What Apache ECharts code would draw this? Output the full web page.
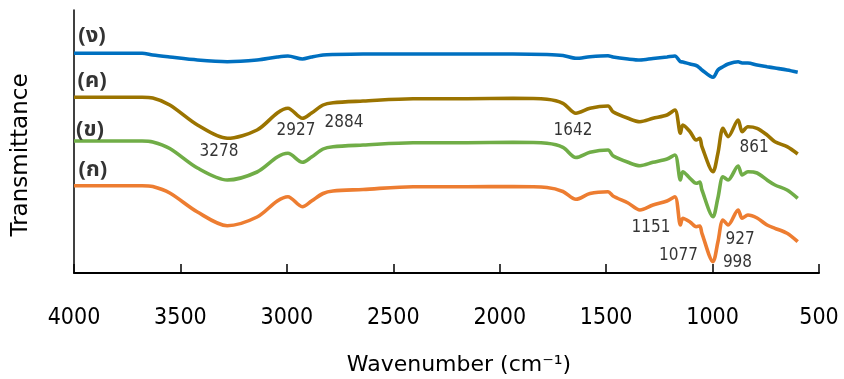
<!DOCTYPE html>
<html>
<head>
<meta charset="utf-8">
<script src="https://cdn.jsdelivr.net/npm/echarts@6/dist/echarts.min.js"></script>
<style>
html,body{margin:0;padding:0;background:#fff;}
#chart{width:844px;height:379px;}
</style>
</head>
<body>
<div id="chart"></div>
<script>
// Wavenumbers (cm-1)
const wavenumbers = [4000,3680,3630,3550,3420,3280,3140,3045,2995,2927,2884,2830,2783,2642,2407,2154,1938,1778,1703,1642,1576,1491,1468,1397,1341,1280,1214,1177,1151,1140,1106,1077,1060,1050,998,975,951,927,880,861,834,791,744,707,650,600];
// Offset transmittance traces (arbitrary units)
const seriesNgo = [219.7,219.7,218,216,213,211.3,213,216,217,214,216,218,218.5,219,219,219,219,218.5,217.5,214.7,216.3,217.3,216,214,213,214.5,216,217,211.3,211,209,207.5,205,203,195.7,203,206.3,209,211.3,210,210,208,206.3,205,203,200.7];
const seriesKho2 = [175.7,175.7,175,168,148,134.7,143,160,164.7,154.7,160,168,170.3,172,174.3,174.3,174.7,173.7,169.7,159.7,164.7,167,161.3,154.7,151.3,154.7,158,163,139.7,148,141.3,133,134.7,126.3,101.3,119.7,144.7,136.3,153,141.3,146.3,144.7,138,131.3,126.3,119];
const seriesKho = [132,132,131,124.5,105,93,101,116,119.7,110.7,116,124,126.3,128,130.3,130.3,130.7,129.7,125.7,115.5,120.7,123,117.3,110.7,107.3,110.7,114,118,93,101.3,94.7,89.7,91,83,56.3,75,96.3,93,107,98,101.3,100,93,88,83,74.7];
const seriesKo = [87.3,87.3,86.5,80,61,47.3,56,72,76.3,66.3,72,79.5,82,83.5,86.3,86.3,86.5,85.5,81.5,73.7,79.5,81.3,77,70,63,68,72,76.3,48,54.7,51,46.3,47,39.7,11.3,31,53,48,63,54.7,58,55,48,44.7,39.7,31.3];
const seriesNames = ['(ง)','(ค)','(ข)','(ก)'];
const seriesColors = ['#0070C0','#9B7400','#70AD47','#ED7D31'];
// Peak annotations: [text, wavenumber, y]
const peakLabels = [['3278',3319,121],['2927',2957,142],['2884',2732,150.5],['1642',1656,142.5],['861',805,125],['1151',1289,45],['1077',1160,17],['927',871,33],['998',883,10.5]];
// Trace labels positions: [text, wavenumber, y]
const traceLabels = [['(ง)',3915,235],['(ค)',3915,190],['(ข)',3925,141],['(ก)',3911,101]];
const xTicks = {min:500,max:4000,interval:500};

const allSeries = [seriesNgo, seriesKho2, seriesKho, seriesKo];
const chart = echarts.init(document.getElementById('chart'), null, {renderer:'canvas'});
const series = allSeries.map((vals,i)=>({
  name: seriesNames[i],
  type:'line',
  data: wavenumbers.map((w,j)=>[w,vals[j]]),
  showSymbol:false,
  smooth:0.3,
  lineStyle:{color:seriesColors[i],width:3.6},
  itemStyle:{color:seriesColors[i]},
  z:2
}));
series.push({
  type:'scatter',
  data: peakLabels.map(p=>({value:[p[1],p[2]],name:p[0]})),
  symbolSize:1,
  itemStyle:{color:'rgba(0,0,0,0)'},
  label:{show:true,position:'inside',formatter:p=>p.name,color:'#000',textBorderWidth:0,fontSize:17,fontFamily:'DejaVu Sans Condensed, DejaVu Sans, sans-serif'},
  z:5
});
series.push({
  type:'scatter',
  data: traceLabels.map(p=>({value:[p[1],p[2]],name:p[0]})),
  symbolSize:1,
  itemStyle:{color:'rgba(0,0,0,0)'},
  label:{show:true,position:'inside',formatter:p=>p.name,color:'#000',textBorderWidth:0,fontSize:22,fontWeight:'bold',fontFamily:'Tahoma, "Noto Sans Thai", Loma, Garuda, "DejaVu Sans", sans-serif'},
  z:5
});
chart.setOption({
  animation:false,
  backgroundColor:'#fff',
  grid:{left:74,right:25,top:10,bottom:106,containLabel:false},
  xAxis:{
    type:'value',inverse:true,min:xTicks.min,max:xTicks.max,interval:xTicks.interval,
    axisLine:{show:true,lineStyle:{color:'#000',width:2}},
    axisTick:{show:true,inside:true,length:9,lineStyle:{color:'#000',width:1.5}},
    axisLabel:{margin:34,color:'#000',fontSize:23,formatter:v=>String(v),fontFamily:'DejaVu Sans Condensed, DejaVu Sans, sans-serif'},
    splitLine:{show:false}
  },
  yAxis:{
    type:'value',min:0,max:263,
    axisLine:{show:true,lineStyle:{color:'#000',width:1.5}},
    axisTick:{show:false},axisLabel:{show:false},splitLine:{show:false}
  },
  graphic:[
    {type:'text',x:21,y:155,rotation:Math.PI/2,
     style:{text:'Transmittance',fontSize:23,fontFamily:'DejaVu Sans, sans-serif',fill:'#000',align:'center',verticalAlign:'middle'}},
    {type:'text',x:459,y:365,
     style:{text:'Wavenumber (cm⁻¹)',fontSize:22,fontFamily:'DejaVu Sans, sans-serif',fill:'#000',align:'center',verticalAlign:'middle'}}
  ],
  series:series
});
</script>
</body>
</html>
